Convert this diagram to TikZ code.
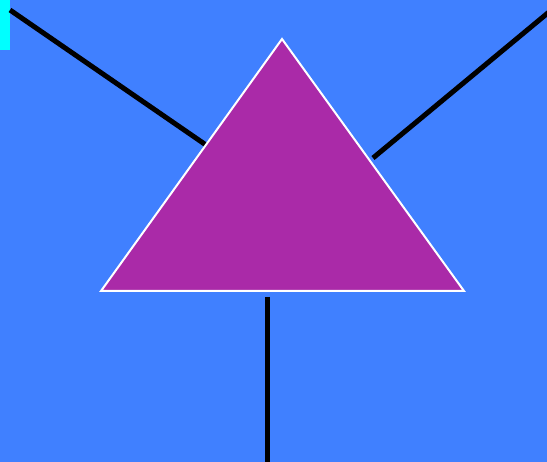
\documentclass[tikz,border=0pt]{standalone}
\definecolor{skyblue}{RGB}{64,128,255}
\definecolor{plum}{RGB}{170,42,168}
\definecolor{aqua}{RGB}{0,255,255}

\begin{document}
\begin{tikzpicture}[x=1pt,y=-1pt,line cap=butt,line join=miter]
  \fill[skyblue] (0,0) rectangle (547,462);
  \useasboundingbox (0,0) rectangle (547,462);
  \fill[aqua] (0,0) rectangle (10,50);
  \coordinate (apex) at (282,39);
  \coordinate (left) at (101,291);
  \coordinate (right) at (464,291);
  \draw[line width=5pt] (10,10) -- (206,145);
  \draw[line width=5pt] (549,12) -- (373,158);
  \draw[line width=5pt] (267,297) -- (267,462);
  \draw[line width=2pt,white,fill=plum] (apex) -- (left) -- (right) -- cycle;
\end{tikzpicture}
\end{document}
